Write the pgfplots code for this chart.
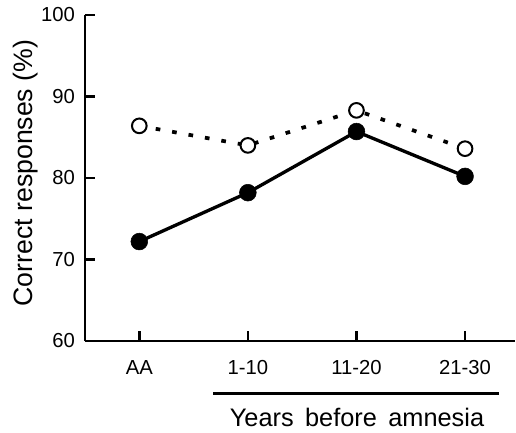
\documentclass[border=0pt]{standalone}
\usepackage{fontspec}
\setmainfont{Liberation Sans}
\usepackage{pgfplots}
\pgfplotsset{compat=1.18}
\begin{document}
\begin{tikzpicture}
\begin{axis}[
    scale only axis,
    width=322.5pt, height=244.5pt,
    xmin=-0.5, xmax=3.46,
    ymin=60, ymax=100,
    axis x line=bottom, axis y line=left,
    axis line style={line width=2pt, -},
    xtick={0,1,2,3},
    xticklabels={AA,1-10,11-20,21-30},
    ytick={60,70,80,90,100},
    tick align=inside,
    major tick length=7.5pt,
    tick style={line width=2pt, black},
    tick label style={font=\fontsize{15.2}{15.2}\selectfont},
    /pgf/number format/assume math mode=true,
    xticklabel style={yshift=-11pt},
    yticklabel style={xshift=-4pt},
    clip=false,
]
% amnesic group (filled)
\addplot[black, line width=2.5pt, mark=*, mark size=6.3pt,
    mark options={solid, fill=black, line width=0.4pt}]
    coordinates {(0,72.2) (1,78.2) (2,85.7) (3,80.2)};
% controls (open)
\addplot[black, line width=2.8pt, dash pattern=on 3.5pt off 9pt, mark=*, mark size=5.5pt,
    mark options={solid, fill=white, draw=black, line width=1.5pt}]
    coordinates {(0,86.4) (1,84.0) (2,88.3) (3,83.6)};

\draw[line width=2.2pt] (axis cs:0.68,53.6) -- (axis cs:3.31,53.6);
\node[font=\fontsize{19}{19}\selectfont] at (axis cs:2.005,50.6)
    {Years\hspace{0.45em}before\hspace{0.45em}amnesia};
\node[rotate=90, font=\fontsize{20}{20}\selectfont] at (axis cs:-1.05,80.6)
    {Correct responses (\%)};
\end{axis}
\pgfresetboundingbox
\path ([shift={(-63.75pt,-68.25pt)}]current axis.south west)
    rectangle ([shift={(323.25pt,255.75pt)}]current axis.south west);
\end{tikzpicture}
\end{document}
